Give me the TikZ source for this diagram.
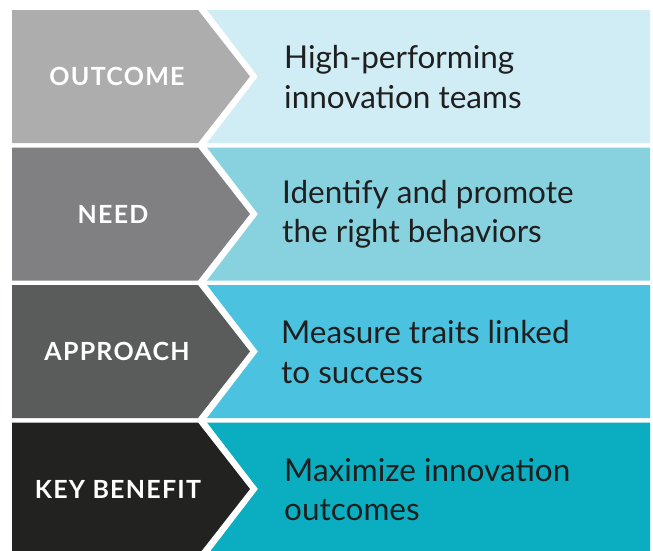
\documentclass[tikz,border=0pt]{standalone}
\usepackage{fontspec}
\setmainfont{Lato}
\newfontfamily\lblfont[LetterSpace=5]{Lato}
\begin{document}
\begin{tikzpicture}[x=1pt,y=-1pt,
  lbl/.style={text=white,font=\lblfont\fontsize{25}{30}\selectfont\bfseries,anchor=center},
  txt/.style={text=black!88,font=\fontsize{31.5}{39.5}\selectfont,anchor=west,align=left,inner sep=0pt}]
\useasboundingbox (0,0) rectangle (653,550);
\fill[white] (0,0) rectangle (653,550);
\definecolor{lA}{HTML}{ADADAD}\definecolor{rA}{HTML}{D0ECF5}
\definecolor{lB}{HTML}{808082}\definecolor{rB}{HTML}{88D2E0}
\definecolor{lC}{HTML}{5A5B5B}\definecolor{rC}{HTML}{4BC3E0}
\definecolor{lD}{HTML}{222220}\definecolor{rD}{HTML}{0BAEC1}
\begin{scope}
\clip (0,0) rectangle (653,550);
\foreach \t/\lc/\rc in {10/lA/rA,147.5/lB/rB,285/lC/rC,422.5/lD/rD}{
  \pgfmathsetmacro{\m}{\t+66.5}
  \pgfmathsetmacro{\b}{\t+133}
  \fill[\lc] (12,\t) -- (198,\t) -- (250,\m) -- (198,\b) -- (12,\b) -- cycle;
  \fill[\rc] (207,\t) -- (650,\t) -- (650,\b) -- (207,\b) -- (258,\m) -- cycle;
}
\end{scope}
\node[lbl] (l1) at (117,76.5) {OUTCOME};
\node[lbl] (l2) at (113,214) {NEED};
\node[lbl] (l3) at (117,351.5) {APPROACH};
\node[lbl] (l4) at (118,489) {KEY BENEFIT};
\node[txt] (t1) at (284,77) {High-performing\\innovation teams};
\node[txt] (t2) at (282,214.5) {Identify and promote\\the right behaviors};
\node[txt] (t3) at (281,352) {Measure traits linked\\to success};
\node[txt] (t4) at (284,489.5) {Maximize innovation\\outcomes};
\end{tikzpicture}
\end{document}
